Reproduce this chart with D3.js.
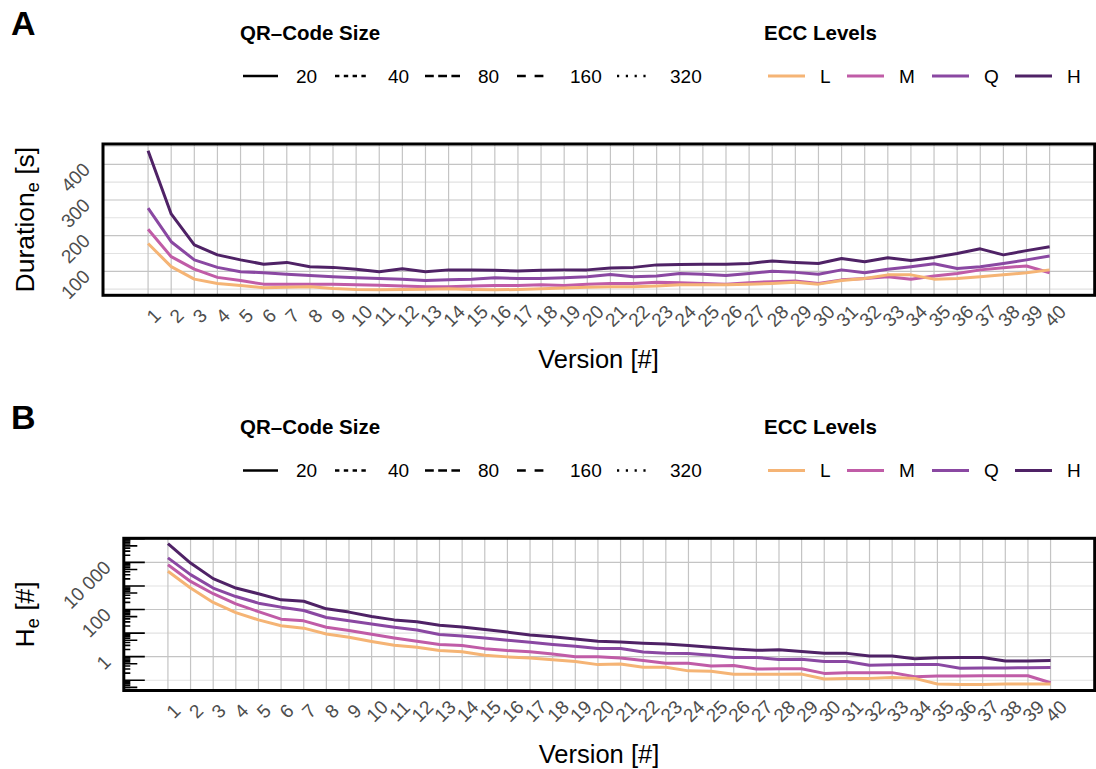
<!DOCTYPE html>
<html>
<head>
<meta charset="utf-8">
<script src="https://cdn.jsdelivr.net/npm/d3@7"></script>
<style>
  body { margin: 0; background: #fff; }
  svg { font-family: "Liberation Sans", Arial, Helvetica, sans-serif; }
</style>
</head>
<body>
<script>
// ---- data ----
var versions = [1,2,3,4,5,6,7,8,9,10,11,12,13,14,15,16,17,18,19,20,
                21,22,23,24,25,26,27,28,29,30,31,32,33,34,35,36,37,38,39,40];
var eccLevels = ["L", "M", "Q", "H"];
var qrSizes = ["20", "40", "80", "160", "320"];

// panel A: duration [s] per version, QR size 20
var durationL = [178,113,78,66,60,54,55,57,52,49, 48,49,50,51,49,48,49,51,53,55,
                 57,57,59,62,62,62,64,66,69,64, 74,80,90,90,78,80,85,90,96,104];
var durationM = [218,141,106,83,74,64,64,64,64,62, 61,59,57,57,59,60,60,62,60,64,
                 66,66,69,68,66,64,68,71,73,66, 76,80,85,78,87,94,104,110,115,96];
var durationQ = [277,183,132,111,99,96,92,88,85,82, 80,78,74,76,78,82,80,80,82,85,
                 91,85,87,94,92,88,94,100,97,92, 104,96,106,113,121,108,113,122,132,143];
var durationH = [438,261,174,146,132,120,125,113,111,106, 99,107,99,104,104,103,101,103,104,104,
                 109,111,118,119,120,120,122,129,125,122, 136,127,138,130,139,150,163,146,158,169];
var durationTicks = [100, 200, 300, 400];
var durationMinor = [50, 150, 250, 350, 450];

// panel B: H_e [#] per version, QR size 20
var entropyL = [4170,813,200,74.1,36.3,20.4,16.2,9.12,6.61,4.37, 3.02,2.51,1.82,1.62,1.15,0.98,0.87,0.74,0.62,0.46,
                0.49,0.355,0.355,0.25,0.24,0.178,0.178,0.178,0.182,0.112, 0.12,0.12,0.132,0.12,0.069,0.066,0.066,0.069,0.069,0.069];
var entropyM = [7940,1550,468,174,81.3,38.9,33.1,17.8,12.9,8.91, 6.17,4.47,3.31,2.95,2.19,1.82,1.62,1.29,1.0,0.98,
                0.87,0.68,0.52,0.52,0.40,0.42,0.30,0.31,0.31,0.195, 0.21,0.21,0.21,0.141,0.151,0.151,0.155,0.155,0.155,0.078];
var entropyQ = [15500,3020,813,355,186,126,91.2,45.7,33.1,24.5, 17.8,13.5,8.71,7.59,6.17,5.01,4.07,3.31,2.75,2.24,
                2.24,1.58,1.38,1.35,1.15,0.93,0.93,0.76,0.78,0.62, 0.62,0.43,0.45,0.47,0.47,0.32,0.33,0.33,0.34,0.35];
var entropyH = [61700,9330,2040,813,468,257,224,107,77.6,50.1, 36.3,30.2,21.4,18.2,14.1,11.0,8.32,6.92,5.62,4.47,
                4.17,3.72,3.47,2.95,2.51,2.14,1.86,1.95,1.66,1.38, 1.38,1.07,1.07,0.81,0.91,0.93,0.93,0.66,0.66,0.69];
var entropyTicks = [1, 100, 10000];
var entropyTickLabels = ["1", "100", "10 000"];
var entropyMinor = [0.1, 10, 1000];

// ---- styles ----
var color = d3.scaleOrdinal().domain(eccLevels)
    .range(["#F5B475", "#C05CA7", "#8A48A2", "#4F2266"]);
var dash = d3.scaleOrdinal().domain(qrSizes)
    .range(["none", "4.4,4.4", "8.8,4.4", "8.8,8.8", "2.2,6.6"]);

var svg = d3.select("body").append("svg")
    .attr("width", 1096)
    .attr("height", 769);

// legends (same for both panels, shifted by dy)
function drawLegend(dy) {
  var g = svg.append("g").attr("transform", "translate(0," + dy + ")");

  g.append("text").attr("x", 240).attr("y", 39.5)
    .attr("font-size", 20.5).attr("font-weight", "bold").text("QR–Code Size");
  var qrKeyX = [243, 335, 425, 517, 617];
  qrSizes.forEach(function(s, i) {
    g.append("line")
      .attr("x1", qrKeyX[i]).attr("x2", qrKeyX[i] + 35)
      .attr("y1", 76).attr("y2", 76)
      .attr("stroke", "#000").attr("stroke-width", 2.3)
      .attr("stroke-dasharray", dash(s));
    g.append("text").attr("x", qrKeyX[i] + 53).attr("y", 82.5)
      .attr("font-size", 19).text(s);
  });

  g.append("text").attr("x", 764).attr("y", 39.5)
    .attr("font-size", 20.5).attr("font-weight", "bold").text("ECC Levels");
  var eccKeyX = [768, 847, 932, 1015];
  eccLevels.forEach(function(l, i) {
    g.append("line")
      .attr("x1", eccKeyX[i]).attr("x2", eccKeyX[i] + 37)
      .attr("y1", 76).attr("y2", 76)
      .attr("stroke", color(l)).attr("stroke-width", 3);
    g.append("text").attr("x", eccKeyX[i] + 52).attr("y", 82.5)
      .attr("font-size", 19).text(l);
  });
}

function drawPanel(p) {
  var x = d3.scaleLinear().domain([1 - 1.95, 40 + 1.95]).range([p.left, p.right]);
  var y = p.y;
  var g = svg.append("g");

  g.append("clipPath").attr("id", p.id)
    .append("rect")
      .attr("x", p.left).attr("y", p.top)
      .attr("width", p.right - p.left).attr("height", p.bottom - p.top);

  var plot = g.append("g").attr("clip-path", "url(#" + p.id + ")");

  // minor horizontal grid
  plot.selectAll(".minor").data(p.minor).enter().append("line")
    .attr("x1", p.left).attr("x2", p.right)
    .attr("y1", function(d) { return y(d); })
    .attr("y2", function(d) { return y(d); })
    .attr("stroke", "#E2E2E2").attr("stroke-width", 1.1);

  // major grid
  plot.selectAll(".majorY").data(p.ticks).enter().append("line")
    .attr("x1", p.left).attr("x2", p.right)
    .attr("y1", function(d) { return y(d); })
    .attr("y2", function(d) { return y(d); })
    .attr("stroke", "#C4C4C4").attr("stroke-width", 1.2);
  plot.selectAll(".majorX").data(versions).enter().append("line")
    .attr("x1", function(d) { return x(d); })
    .attr("x2", function(d) { return x(d); })
    .attr("y1", p.top).attr("y2", p.bottom)
    .attr("stroke", "#C4C4C4").attr("stroke-width", 1.2);

  // log ticks on the left side
  if (p.logticks) {
    var lt = y.ticks().filter(function(d) { return y(d) >= p.top && y(d) <= p.bottom; });
    plot.selectAll(".logtick").data(lt).enter().append("line")
      .attr("x1", p.left - 1.5)
      .attr("x2", function(d) {
        var m = Math.round(d / Math.pow(10, Math.floor(Math.log10(d) + 1e-9)));
        return p.left - 1.5 + (m === 1 ? 22.5 : (m === 5 ? 15 : 8));
      })
      .attr("y1", function(d) { return y(d); })
      .attr("y2", function(d) { return y(d); })
      .attr("stroke", "#000").attr("stroke-width", 1.6);
  }

  // series
  var line = d3.line()
    .x(function(d, i) { return x(versions[i]); })
    .y(function(d) { return y(d); });
  ["H", "Q", "M", "L"].forEach(function(l) {
    plot.append("path")
      .datum(p.series[l])
      .attr("d", line)
      .attr("fill", "none")
      .attr("stroke", color(l))
      .attr("stroke-width", 3)
      .attr("stroke-linejoin", "round")
      .attr("stroke-dasharray", dash("20"));
  });

  // border
  g.append("rect")
    .attr("x", p.left).attr("y", p.top)
    .attr("width", p.right - p.left).attr("height", p.bottom - p.top)
    .attr("fill", "none").attr("stroke", "#000").attr("stroke-width", 3);

  // x tick labels
  g.selectAll(".xl").data(versions).enter().append("text")
    .attr("transform", function(d) {
      return "translate(" + (x(d) + 5.5) + "," + (p.bottom + 20.7) + ") rotate(-45)";
    })
    .attr("text-anchor", "middle")
    .attr("dominant-baseline", "central")
    .attr("font-size", 19).attr("fill", "#4D4D4D")
    .text(function(d) { return d; });

  // y tick labels
  g.selectAll(".yl").data(p.ticks).enter().append("text")
    .attr("transform", function(d) {
      return "translate(" + (p.left - 11.7) + "," + (y(d) + 6.5) + ") rotate(-45)";
    })
    .attr("text-anchor", "end")
    .attr("font-size", 19).attr("fill", "#4D4D4D")
    .text(function(d, i) { return p.tickLabels[i]; });

  // axis titles
  g.append("text")
    .attr("x", p.titleX).attr("y", p.bottom + 72.7)
    .attr("text-anchor", "middle").attr("font-size", 25.5)
    .text("Version [#]");

  var yt = g.append("text")
    .attr("transform", "translate(33.5," + ((p.top + p.bottom) / 2) + ") rotate(-90)")
    .attr("text-anchor", "middle").attr("font-size", 26.5);
  yt.append("tspan").text(p.yTitle[0]);
  yt.append("tspan").attr("font-size", 18).attr("dy", 5).text(p.yTitle[1]);
  yt.append("tspan").attr("dy", -5).text(p.yTitle[2]);

  // panel tag
  svg.append("text").attr("x", 11).attr("y", p.tagY)
    .attr("font-size", 34).attr("font-weight", "bold").text(p.tag);
}

drawLegend(0);
drawLegend(394.5);

drawPanel({
  id: "clipA", tag: "A", tagY: 34.5, titleX: 598.5,
  left: 103, right: 1094.7, top: 144, bottom: 295.3,
  y: d3.scaleLinear().domain([32.7, 457]).range([295.3, 144]),
  ticks: durationTicks,
  tickLabels: durationTicks.map(String),
  minor: durationMinor,
  logticks: false,
  series: { L: durationL, M: durationM, Q: durationQ, H: durationH },
  yTitle: ["Duration", "e", " [s]"]
});

drawPanel({
  id: "clipB", tag: "B", tagY: 429, titleX: 599,
  left: 123.8, right: 1094.7, top: 538.3, bottom: 690.5,
  y: d3.scaleLog().domain([Math.pow(10, -1.435), Math.pow(10, 5.02)]).range([690.5, 538.3]),
  ticks: entropyTicks,
  tickLabels: entropyTickLabels,
  minor: entropyMinor,
  logticks: true,
  series: { L: entropyL, M: entropyM, Q: entropyQ, H: entropyH },
  yTitle: ["H", "e", " [#]"]
});
</script>
</body>
</html>
